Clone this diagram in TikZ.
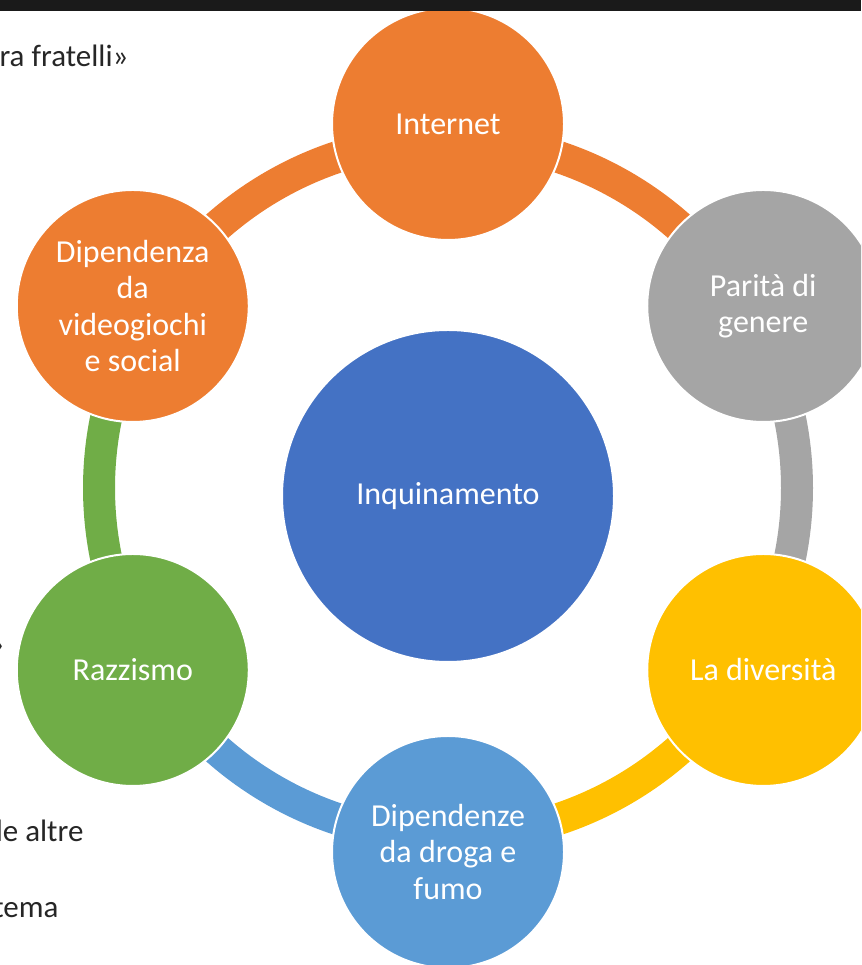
\documentclass[tikz,border=0pt]{standalone}
\usepackage{fontspec}
\setmainfont{Carlito}
\usetikzlibrary{calc}
\definecolor{topicorange}{HTML}{ED7D31}
\definecolor{topicgray}{HTML}{A5A5A5}
\definecolor{topicgold}{HTML}{FFC000}
\definecolor{topicblue}{HTML}{5B9BD5}
\definecolor{topicgreen}{HTML}{70AD47}
\definecolor{hubblue}{HTML}{4472C4}
\definecolor{notegray}{HTML}{262626}
\definecolor{barblack}{HTML}{1A1A1A}

\begin{document}
\begin{tikzpicture}[
  x=1pt,y=1pt,
  topic/.style={circle,draw=white,line width=2pt,minimum size=232pt,inner sep=0pt,
    text=white,align=center,font=\fontsize{32}{36.5}\selectfont},
  hub/.style={topic,minimum size=332pt},
  ringseg/.style={line width=32pt},
  sidetext/.style={anchor=base east,text=notegray,font=\fontsize{31}{36}\selectfont}
]
\useasboundingbox (0,0) rectangle (861,965);
\clip (0,0) rectangle (861,965);

% text of the slide behind the diagram
\node[sidetext] (note1) at (132,898) {ra fratelli»};
\node[sidetext] (note2) at (8,310) {»};
\node[sidetext] (note3) at (87,123) {le altre};
\node[sidetext] (note4) at (62,47) {tema};

% ring, one arc per topic
\coordinate (ring) at (448,477);
\foreach \a/\c in {90/topicorange,30/topicgray,-30/topicgold,-90/topicblue,
  -150/topicgreen,150/topicorange}
  \draw[ringseg,\c] ($(ring)+(\a:349)$) arc[start angle=\a,end angle=\a-60,radius=349];

\node[hub,fill=hubblue] (inquinamento) at (448,469) {Inquinamento};
\node[topic,fill=topicorange] (internet) at ($(ring)+(90:364)$) {Internet};
\node[topic,fill=topicgray] (parita) at ($(ring)+(30:364)$) {Parità di\\genere};
\node[topic,fill=topicgold] (diversita) at ($(ring)+(-30:364)$) {La diversità};
\node[topic,fill=topicblue] (droga) at ($(ring)+(-90:364)$)
  {Dipendenze\\da droga e\\fumo};
\node[topic,fill=topicgreen] (razzismo) at ($(ring)+(-150:364)$) {Razzismo};
\node[topic,fill=topicorange] (videogiochi) at ($(ring)+(150:364)$)
  {Dipendenza\\da\\videogiochi\\e social};

\fill[barblack] (0,954) rectangle (861,965);
\end{tikzpicture}
\end{document}
